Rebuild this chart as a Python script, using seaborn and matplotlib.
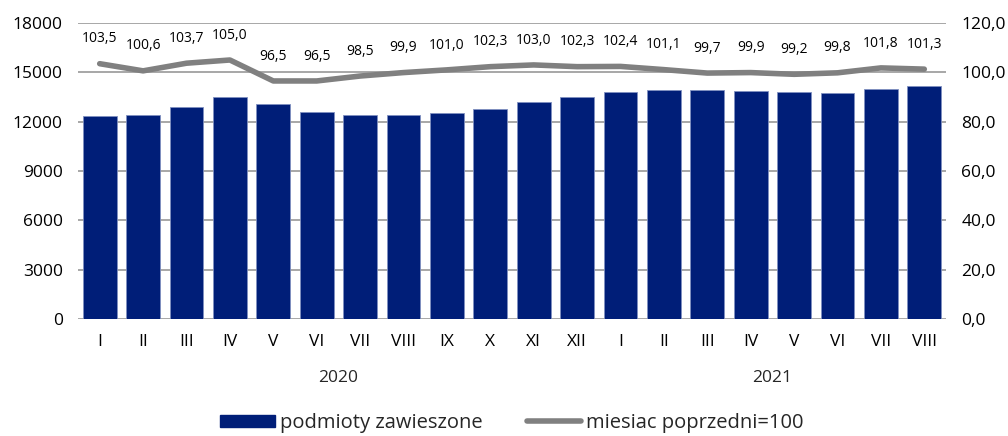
import matplotlib
matplotlib.use("Agg")
import matplotlib.pyplot as plt
import seaborn as sns
import pandas as pd
from matplotlib.patches import Patch
from matplotlib.lines import Line2D

months = ["I", "II", "III", "IV", "V", "VI", "VII", "VIII", "IX", "X", "XI", "XII",
          "I", "II", "III", "IV", "V", "VI", "VII", "VIII"]
years = ["2020", "2021"]
suspended = [12340, 12410, 12870, 13520, 13050, 12590, 12400, 12400, 12510, 12780,
             13180, 13480, 13800, 13950, 13910, 13890, 13800, 13760, 14010, 14190]
prev_month = [103.5, 100.6, 103.7, 105.0, 96.5, 96.5, 98.5, 99.9, 101.0, 102.3,
              103.0, 102.3, 102.4, 101.1, 99.7, 99.9, 99.2, 99.8, 101.8, 101.3]
left_ticks = [0, 3000, 6000, 9000, 12000, 15000, 18000]
right_ticks = [0, 20, 40, 60, 80, 100, 120]

df = pd.DataFrame({"idx": list(range(len(months))), "val": suspended, "ratio": prev_month})

sns.set_theme(style="white")
plt.rcParams["font.family"] = ["Open Sans", "DejaVu Sans"]

NAVY = "#001E78"
GRAY = "#808080"
GRID = "#A0A0A0"
TICK_FS = 12.5

fig = plt.figure(figsize=(10.08, 4.36), dpi=100)
ax = fig.add_axes([78 / 1008, 1 - 319 / 436, (946 - 78) / 1008, (319 - 23) / 436])

sns.barplot(data=df, x="idx", y="val", ax=ax, color=NAVY, saturation=1, width=0.78,
            edgecolor="#8090C0", linewidth=0.6, zorder=3)
ax.set_ylim(0, 18000)
ax.set_yticks(left_ticks)
ax.set_yticklabels([str(t) for t in left_ticks], fontsize=TICK_FS)
ax.set_xlim(-0.5, len(months) - 0.5)
ax.set_xticks(range(len(months)))
ax.set_xticklabels(months, fontsize=TICK_FS)
ax.set_xlabel("")
ax.set_ylabel("")
ax.grid(axis="y", color=GRID, linewidth=1.3, zorder=0)
ax.set_axisbelow(True)
for s in ax.spines.values():
    s.set_visible(False)
ax.tick_params(axis="x", length=0, pad=11, colors="black")
ax.tick_params(axis="y", length=0, pad=11, colors="black")

ax2 = ax.twinx()
sns.lineplot(data=df, x="idx", y="ratio", ax=ax2, color=GRAY, linewidth=4, zorder=4)
ax2.set_ylim(0, 120)
ax2.set_yticks(right_ticks)
ax2.set_yticklabels([f"{t:.1f}".replace(".", ",") for t in right_ticks], fontsize=TICK_FS)
ax2.set_xlim(-0.5, len(months) - 0.5)
ax2.set_ylabel("")
ax2.set_xlabel("")
for s in ax2.spines.values():
    s.set_visible(False)
ax2.tick_params(axis="y", length=0, pad=11, colors="black")
ax2.grid(False)

for i, v in enumerate(prev_month):
    ax2.annotate(f"{v:.1f}".replace(".", ","), (i, v), xytext=(0, 12.5), textcoords="offset points",
                 ha="center", va="bottom", fontsize=10, color="black")

# year labels
for k, yr in enumerate(years):
    center = 5.5 if k == 0 else 15.5
    ax.text(center, -0.199, yr, transform=ax.get_xaxis_transform(), ha="center", va="center",
            fontsize=TICK_FS)

handles = [Patch(facecolor=NAVY, edgecolor=NAVY), Line2D([0], [0], color=GRAY, lw=4)]
fig.legend(handles, ["podmioty zawieszone", "miesiac poprzedni=100"], loc="center",
           bbox_to_anchor=(512 / 1008, 1 - 423 / 436), ncol=2, frameon=False, fontsize=14.5,
           handlelength=2.7, handleheight=0.6, columnspacing=2.2, handletextpad=0.25)

fig.savefig("out.png", dpi=100)
